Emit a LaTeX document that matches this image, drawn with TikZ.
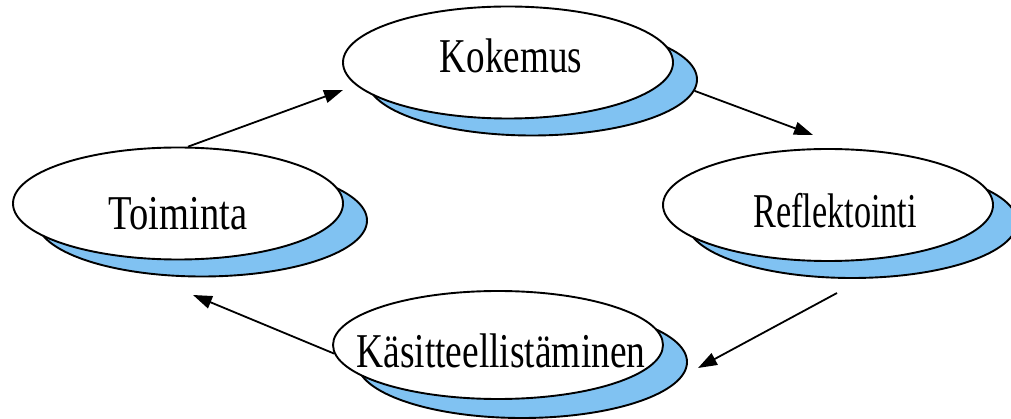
\documentclass[tikz,border=0pt]{standalone}
\usepackage{fontspec}
\setmainfont{Liberation Serif}
\usepackage{graphicx}
\usetikzlibrary{shapes.geometric,arrows.meta}
\definecolor{shadowblue}{RGB}{128,194,242}
\tikzset{
  mainell/.style={ellipse, draw=black, line width=1.9pt, fill=white, inner sep=0pt,
    minimum width=330pt, minimum height=112pt},
  shadell/.style={ellipse, draw=black, line width=1.9pt, fill=shadowblue, inner sep=0pt,
    minimum width=330pt, minimum height=112pt},
  lbl/.style={anchor=base, inner sep=0pt, font=\fontsize{36}{36}\selectfont},
  conn/.style={draw=black, line width=1.8pt, -{Triangle[length=19pt,width=13pt]}}
}
\newcommand{\stretchtxt}[2]{\scalebox{#1}[1.35]{#2}}
\begin{document}
\begin{tikzpicture}[x=1pt,y=-1pt]
\useasboundingbox (0,0) rectangle (1011,419);
\clip (0,0) rectangle (1011,419);
\fill[white] (0,0) rectangle (1011,419);
% shadows
\node[shadell] (kokS) at (532,79.5) {};
\node[shadell] (toiS) at (202,220.5) {};
\node[shadell] (refS) at (852,222) {};
\node[shadell] (kasS) at (522,362) {};
% main ellipses
\node[mainell] (kok) at (508,62.5) {};
\node[mainell] (toi) at (178,203.5) {};
\node[mainell] (ref) at (828,205) {};
\node[mainell, minimum height=108pt] (kas) at (498,345) {};
% labels
\node[lbl] (kokT) at (511,73) {\stretchtxt{1.03}{Kokemus}};
\node[lbl] (toiT) at (178,230) {\stretchtxt{1.07}{Toiminta}};
\node[lbl] (refT) at (835,228) {\stretchtxt{0.95}{Reflektointi}};
\node[lbl] (kasT) at (501,367) {\stretchtxt{1.04}{Käsitteellistäminen}};
% connector endpoints
\coordinate (e1) at (343,90);
\coordinate (e2) at (813,135);
\coordinate (s3) at (837,293);
\coordinate (e3) at (698,368);
\coordinate (e4) at (193,295);
% connectors
\draw[conn] (toi.80) -- (e1);
\draw[conn] (kokS.-4) -- (e2);
\draw[conn] (s3) -- (e3);
\draw[conn] (kas.183) -- (e4);
\end{tikzpicture}
\end{document}
